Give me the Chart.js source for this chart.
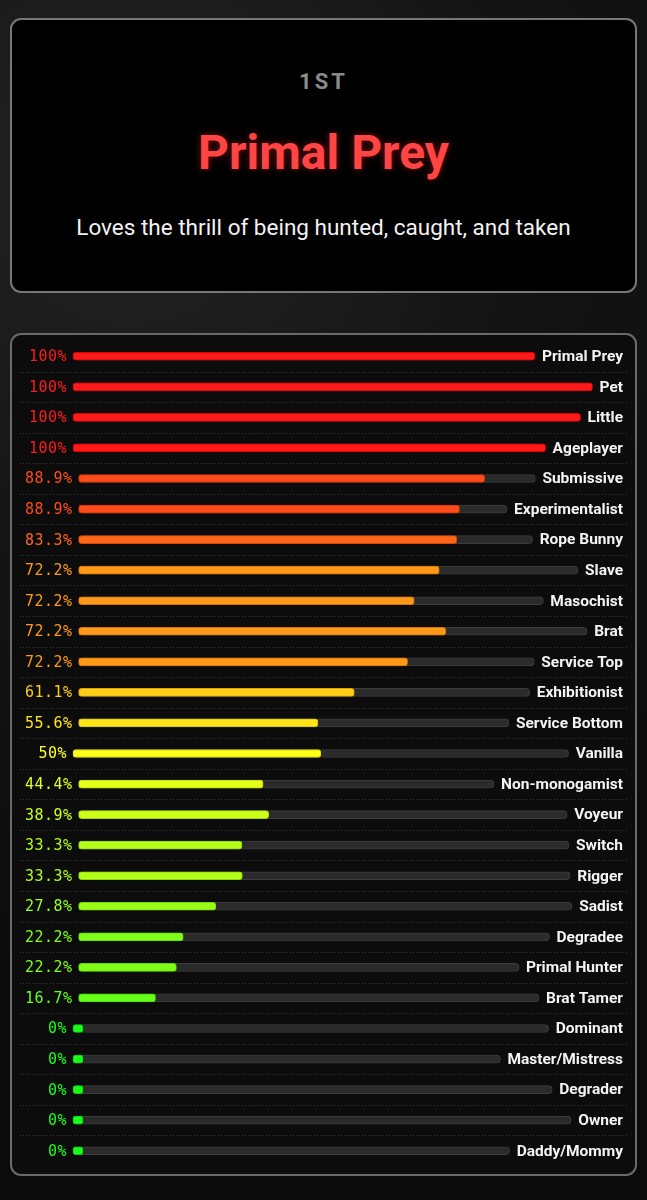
<!DOCTYPE html>
<html>
<head>
<meta charset="utf-8">
<script src="https://cdn.jsdelivr.net/npm/chart.js"></script>
<style>
  body {
    margin: 0;
    width: 647px;
    height: 1200px;
    background: radial-gradient(circle at 20% 15%, #232323 0, #141414 35%, #0b0b0b 70%),
                #111;
    font-family: Roboto, sans-serif;
    position: relative;
    overflow: hidden;
  }
  .card {
    position: absolute;
    left: 10px;
    top: 18px;
    width: 623px;
    height: 271px;
    border: 2px solid #777;
    border-radius: 11px;
    background: #000;
    text-align: center;
  }
  .rank {
    position: absolute; left: 0; right: 0; top: 49px;
    color: #8a8a8a; font-weight: 700; font-size: 22px; letter-spacing: 3px;
  }
  .title {
    position: absolute; left: 0; right: 0; top: 104px;
    color: #ff4444; font-weight: 700; font-size: 48px;
    text-shadow: 0 0 7px rgba(255, 40, 40, 0.45);
  }
  .sub {
    position: absolute; left: 0; right: 0; top: 194px;
    color: #f2f2f2; font-size: 22.5px;
  }
  .panel {
    position: absolute;
    left: 10px;
    top: 333px;
    width: 623px;
    height: 839px;
    border: 2px solid #6a6a6a;
    border-radius: 11px;
    background: #0c0c0c;
  }
</style>
</head>
<body>
<div class="card">
  <div class="rank">1ST</div>
  <div class="title">Primal Prey</div>
  <div class="sub">Loves the thrill of being hunted, caught, and taken</div>
</div>
<div class="panel"><canvas id="scores"></canvas></div>
<script>
const names = ["Primal Prey", "Pet", "Little", "Ageplayer", "Submissive", "Experimentalist",
  "Rope Bunny", "Slave", "Masochist", "Brat", "Service Top", "Exhibitionist", "Service Bottom",
  "Vanilla", "Non-monogamist", "Voyeur", "Switch", "Rigger", "Sadist", "Degradee",
  "Primal Hunter", "Brat Tamer", "Dominant", "Master/Mistress", "Degrader", "Owner", "Daddy/Mommy"];
const percents = [100, 100, 100, 100, 88.9, 88.9, 83.3, 72.2, 72.2, 72.2, 72.2, 61.1, 55.6,
  50, 44.4, 38.9, 33.3, 33.3, 27.8, 22.2, 22.2, 16.7, 0, 0, 0, 0, 0];
const trackFull = names.map(() => 100);

// red at 100%, yellow at 50%, green at 0%
function hue(v) { return 120 * (1 - v / 100); }
const fillColors = percents.map(v => `hsl(${hue(v)}, 100%, 55%)`);
const edgeColors = percents.map(v => `hsl(${hue(v)}, 100%, 42%)`);

const pctFont = '15px "DejaVu Sans Mono", monospace';
const pctSpacing = '0.5px';
const nameFont = 'bold 15.5px Roboto, sans-serif';
const labelLeft = 12, minLabelW = 42, gapLeft = 7, nameRight = 611, gapRight = 7;

function pctText(v) { return v + '%'; }

const rowLayout = {
  id: 'rowLayout',
  beforeDatasetsDraw(chart) {
    const ctx = chart.ctx;
    const x = chart.scales.x, y = chart.scales.y;
    const track = chart.getDatasetMeta(0), fill = chart.getDatasetMeta(1);
    // dotted separators
    ctx.save();
    ctx.strokeStyle = '#3a3a3a';
    ctx.lineWidth = 1;
    ctx.setLineDash([1, 2]);
    for (let i = 0; i < names.length - 1; i++) {
      const yy = Math.round((y.getPixelForValue(i) + y.getPixelForValue(i + 1)) / 2) + 0.5;
      ctx.beginPath();
      ctx.moveTo(8, yy);
      ctx.lineTo(616, yy);
      ctx.stroke();
    }
    ctx.restore();

    names.forEach((n, i) => {
      ctx.save();
      ctx.font = pctFont;
      ctx.letterSpacing = pctSpacing;
      const pw = ctx.measureText(pctText(percents[i])).width;
      ctx.font = nameFont;
      ctx.letterSpacing = '0px';
      const nw = ctx.measureText(n).width;
      ctx.restore();
      const start = Math.max(labelLeft + minLabelW, labelLeft + pw) + gapLeft;
      const end = nameRight - nw - gapRight;
      const map = v => start + (end - start) * (x.getPixelForValue(v) - x.left) / x.width;
      track.data[i].base = start;
      track.data[i].x = map(trackFull[i]);
      fill.data[i].base = start;
      fill.data[i].x = Math.max(map(percents[i]), start + 10);
    });
  },
  afterDatasetsDraw(chart) {
    const ctx = chart.ctx, y = chart.scales.y;
    names.forEach((n, i) => {
      const yy = y.getPixelForValue(i) + 1;
      ctx.save();
      ctx.textBaseline = 'middle';
      ctx.font = pctFont;
      ctx.letterSpacing = pctSpacing;
      const t = pctText(percents[i]);
      const pw = ctx.measureText(t).width;
      const right = Math.max(labelLeft + minLabelW, labelLeft + pw);
      ctx.fillStyle = fillColors[i];
      ctx.textAlign = 'left';
      ctx.fillText(t, right - pw + 1, yy);
      ctx.letterSpacing = '0px';
      ctx.font = nameFont;
      ctx.fillStyle = '#f4f4f4';
      ctx.textAlign = 'right';
      ctx.fillText(n, nameRight, yy);
      ctx.restore();
    });
  }
};

new Chart(document.getElementById('scores'), {
  type: 'bar',
  data: {
    labels: names,
    datasets: [
      {
        data: trackFull,
        backgroundColor: '#2b2b2b',
        borderColor: '#3d3d3d',
        borderWidth: 1,
        borderRadius: 4,
        borderSkipped: false,
        barThickness: 8,
        grouped: false,
        order: 2
      },
      {
        data: percents,
        backgroundColor: fillColors,
        borderColor: edgeColors,
        borderWidth: 1,
        borderRadius: 3,
        borderSkipped: false,
        barThickness: 8,
        grouped: false,
        order: 1
      }
    ]
  },
  options: {
    indexAxis: 'y',
    responsive: true,
    maintainAspectRatio: false,
    animation: false,
    layout: { padding: { top: 6, bottom: 8, left: 0, right: 0 } },
    plugins: { legend: { display: false }, tooltip: { enabled: false } },
    scales: {
      x: { display: false, min: 0, max: 100 },
      y: { display: false }
    }
  },
  plugins: [rowLayout]
});
</script>
</body>
</html>
